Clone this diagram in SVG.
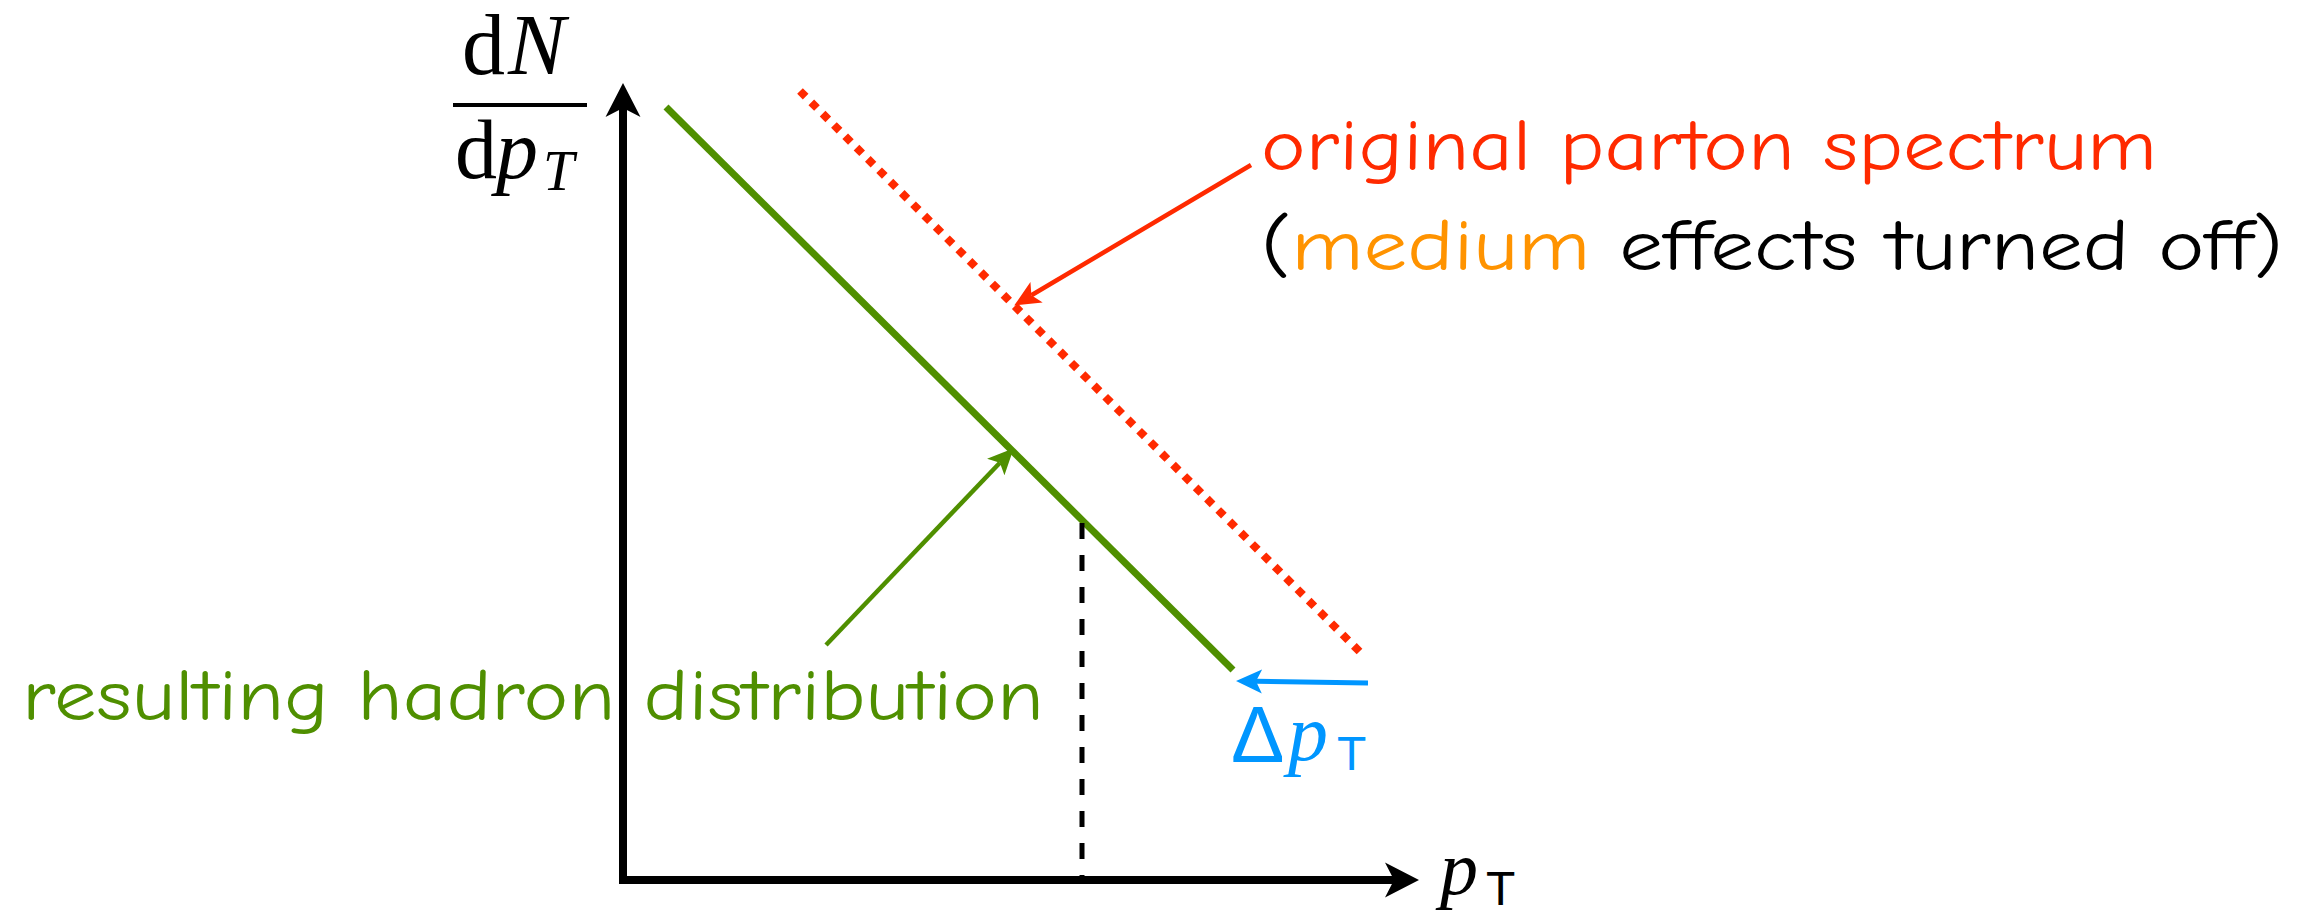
<svg xmlns="http://www.w3.org/2000/svg" width="2313" height="912" viewBox="0 0 2313 912">
  <style>
    .comic { font-family: "Comic Sans MS", "Comic Neue", "DejaVu Sans", sans-serif; font-size: 72px; }
    .math { font-family: "Liberation Serif", "DejaVu Serif", serif; }
    .sans { font-family: "Liberation Sans", "DejaVu Sans", sans-serif; }
    .red { fill: #ff2a00; }
    .green { fill: #4f8f00; }
    .orange { fill: #ff9300; }
    .black { fill: #000000; }
    .blue { fill: #0096ff; }
  </style>
  <defs>
    <marker id="axisHead" markerUnits="userSpaceOnUse" markerWidth="40" markerHeight="40" viewBox="0 -20 40 40" refX="9" refY="0" orient="auto-start-reverse">
      <path d="M34,0 L0,-17.5 L9,0 L0,17.5 Z" fill="#000"/>
    </marker>
    <marker id="redHead" markerUnits="userSpaceOnUse" markerWidth="30" markerHeight="30" viewBox="0 -15 30 30" refX="6" refY="0" orient="auto">
      <path d="M26,0 L0,-12 L6,0 L0,12 Z" fill="#ff2a00"/>
    </marker>
    <marker id="greenHead" markerUnits="userSpaceOnUse" markerWidth="30" markerHeight="30" viewBox="0 -15 30 30" refX="6" refY="0" orient="auto">
      <path d="M26,0 L0,-12 L6,0 L0,12 Z" fill="#4f8f00"/>
    </marker>
    <marker id="blueHead" markerUnits="userSpaceOnUse" markerWidth="30" markerHeight="30" viewBox="0 -15 30 30" refX="6" refY="0" orient="auto">
      <path d="M26,0 L0,-12 L6,0 L0,12 Z" fill="#0096ff"/>
    </marker>
  </defs>
  <rect width="2313" height="912" fill="#ffffff"/>

  <g id="axes">
    <path d="M623,108 L623,880 L1394,880" fill="none" stroke="#000" stroke-width="8" stroke-linejoin="miter" marker-start="url(#axisHead)" marker-end="url(#axisHead)"/>
  </g>

  <g id="y-label">
    <text class="math" font-size="86" y="74"><tspan x="462">d</tspan><tspan x="508" font-style="italic">N</tspan></text>
    <line x1="453" y1="105" x2="587" y2="105" stroke="#000" stroke-width="4"/>
    <text class="math" font-size="84" y="178"><tspan x="455">d</tspan><tspan x="496" font-style="italic">p</tspan></text>
    <text class="math" font-size="56" font-style="italic" x="543" y="190">T</text>
  </g>

  <g id="x-label">
    <text class="math" font-size="76" font-style="italic" x="1440" y="894">p</text>
    <text class="sans" font-size="48" x="1486" y="905">T</text>
  </g>

  <g id="curves">
    <line id="hadron-line" x1="666" y1="107" x2="1233" y2="670" stroke="#4f8f00" stroke-width="7"/>
    <line id="parton-line" x1="800" y1="91" x2="1360" y2="652" stroke="#ff2a00" stroke-width="8" stroke-dasharray="8 8"/>
    <line id="pt-marker" x1="1082" y1="523" x2="1082" y2="876" stroke="#000" stroke-width="5" stroke-dasharray="16 16"/>
  </g>

  <g id="connectors">
    <line x1="1251" y1="165" x2="1031.4" y2="295.3" stroke="#ff2a00" stroke-width="4.5" marker-end="url(#redHead)"/>
    <line x1="826" y1="645" x2="999.9" y2="462.7" stroke="#4f8f00" stroke-width="4.5" marker-end="url(#greenHead)"/>
    <line x1="1368" y1="683" x2="1256" y2="681.3" stroke="#0096ff" stroke-width="5" marker-end="url(#blueHead)"/>
  </g>

  <g id="parton-label">
    <text class="comic red" x="1261" y="170" textLength="896" lengthAdjust="spacingAndGlyphs">original parton spectrum</text>
    <text class="comic black" x="1261" y="270" textLength="1022" lengthAdjust="spacingAndGlyphs">(<tspan class="orange">medium</tspan> effects turned off)</text>
  </g>

  <g id="hadron-label">
    <text class="comic green" x="22" y="720" textLength="1022" lengthAdjust="spacingAndGlyphs">resulting hadron distribution</text>
  </g>

  <g id="delta-label">
    <text class="sans blue" font-size="80" x="1231" y="762">Δ</text>
    <text class="math blue" font-size="80" font-style="italic" x="1288" y="760">p</text>
    <text class="sans blue" font-size="48" x="1337" y="770">T</text>
  </g>
</svg>
